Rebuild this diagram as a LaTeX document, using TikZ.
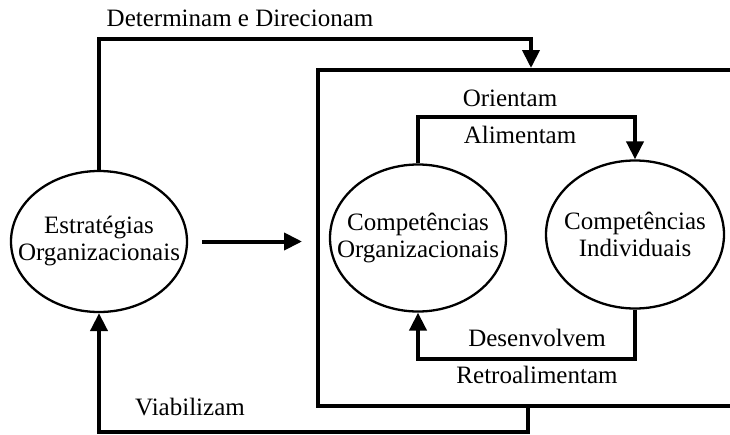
\documentclass[tikz,border=0pt]{standalone}
\usepackage{fontspec}
\setmainfont{Liberation Serif}
\usetikzlibrary{shapes.geometric,arrows.meta}

\begin{document}
\begin{tikzpicture}[
  x=1pt, y=-1pt,
  font=\fontsize{25}{27}\selectfont,
  elp/.style={ellipse, draw, line width=2.3pt, inner sep=0pt},
  conn/.style={line width=4pt, -{Triangle[width=17pt,length=18pt]}},
  frame/.style={draw, line width=4pt, inner sep=0pt}
]
  \clip (0,0) rectangle (730,434);

  % Ellipses
  \node[elp, minimum width=176pt, minimum height=141pt,
    label={[align=center]center:Estratégias\\Organizacionais}] (eo) at (99,241.5) {};
  \node[elp, minimum width=176pt, minimum height=147pt,
    label={[align=center]center:Competências\\Organizacionais}] (co) at (418,238) {};
  \node[elp, minimum width=178pt, minimum height=148pt,
    label={[align=center]center:Competências\\Individuais}] (ci) at (635,234.5) {};

  % Frame round the competences (cut by the right edge)
  \node[frame, anchor=north west, minimum width=432pt, minimum height=336pt] (sys) at (316,68) {};
  \coordinate (topin) at (531,68);
  \coordinate (topbend) at (531,39);
  \coordinate (botout) at (528,404);

  % Connectors
  \draw[conn] (eo.north) |- (topbend) -- (topin);
  \draw[conn, shorten <=14pt, shorten >=14pt] (eo.east) -- (eo.east -| sys.west);
  \draw[conn] (co.north) -- ++(0,-46) -| (ci.north);
  \draw[conn] (ci.south) -- ++(0,49) -| (co.south);
  \draw[conn] (botout) -- ++(0,28) -| (eo.south);

  % Labels
  \node (detdir) at (240,18) {Determinam e Direcionam};
  \node (orient) at (510,98) {Orientam};
  \node (aliment) at (520,135) {Alimentam};
  \node (desenv) at (537,338) {Desenvolvem};
  \node (retro) at (537,375) {Retroalimentam};
  \node (viab) at (190,407) {Viabilizam};
\end{tikzpicture}
\end{document}
